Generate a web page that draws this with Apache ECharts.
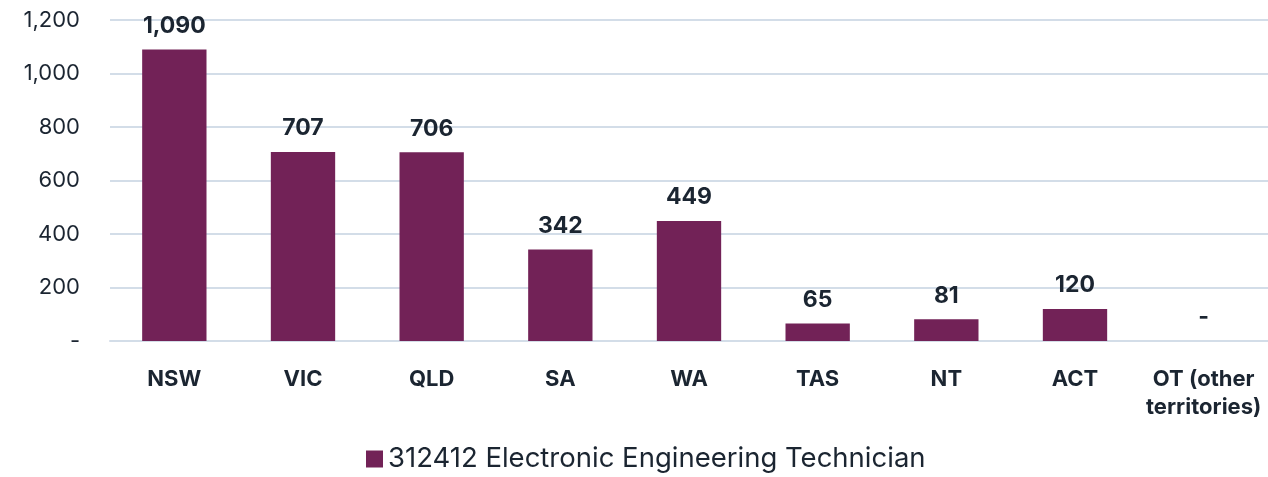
<!DOCTYPE html>
<html>
<head>
<meta charset="utf-8">
<script src="https://cdn.jsdelivr.net/npm/echarts@6/dist/echarts.min.js"></script>
<style>
    html, body { margin: 0; padding: 0; background: #fff; }
    #chart { width: 1268px; height: 477px; }
</style>
</head>
<body>
<div id="chart"></div>
<script>
    // categories and values
    const categories = ['NSW', 'VIC', 'QLD', 'SA', 'WA', 'TAS', 'NT', 'ACT', 'OT (other\nterritories)'];
    const values = [1090, 707, 706, 342, 449, 65, 81, 120, 0];
    const seriesName = '312412 Electronic Engineering Technician';
    const yTicks = [0, 200, 400, 600, 800, 1000, 1200];

    const fmt = function (v) {
        if (v === 0) return '-';
        return v.toLocaleString('en-US');
    };

    const myChart = echarts.init(document.getElementById('chart'));
    const option = {
        animation: false,
        textStyle: { fontFamily: 'Inter, sans-serif' },
        grid: {
            left: 110,
            right: 0,
            top: 20,
            bottom: 136,
            containLabel: false
        },
        legend: {
            data: [seriesName],
            top: 445,
            left: 366,
            padding: 0,
            icon: 'rect',
            itemWidth: 17,
            itemHeight: 17,
            itemGap: 8,
            textStyle: { fontSize: 27.5, color: '#1b2531', fontFamily: 'Inter, sans-serif' }
        },
        xAxis: {
            type: 'category',
            data: categories,
            axisTick: { show: false },
            axisLine: { show: true, lineStyle: { color: '#d3dde8', width: 2 } },
            axisLabel: {
                interval: 0,
                margin: 24,
                fontSize: 22,
                fontWeight: 'bold',
                color: '#1b2531',
                lineHeight: 28
            }
        },
        yAxis: {
            type: 'value',
            min: yTicks[0],
            max: yTicks[yTicks.length - 1],
            interval: 200,
            axisTick: { show: false },
            axisLine: { show: false },
            splitLine: { lineStyle: { color: '#d3dde8', width: 2 } },
            axisLabel: {
                formatter: fmt,
                fontSize: 22,
                color: '#1b2531',
                margin: 30
            }
        },
        series: [{
            name: seriesName,
            type: 'bar',
            data: values,
            barWidth: '50%',
            itemStyle: { color: '#722257' },
            label: {
                show: true,
                position: 'top',
                distance: 12,
                formatter: function (p) { return fmt(p.value); },
                fontSize: 23,
                fontWeight: 'bold',
                color: '#1b2531'
            }
        }]
    };
    myChart.setOption(option);
</script>
</body>
</html>
